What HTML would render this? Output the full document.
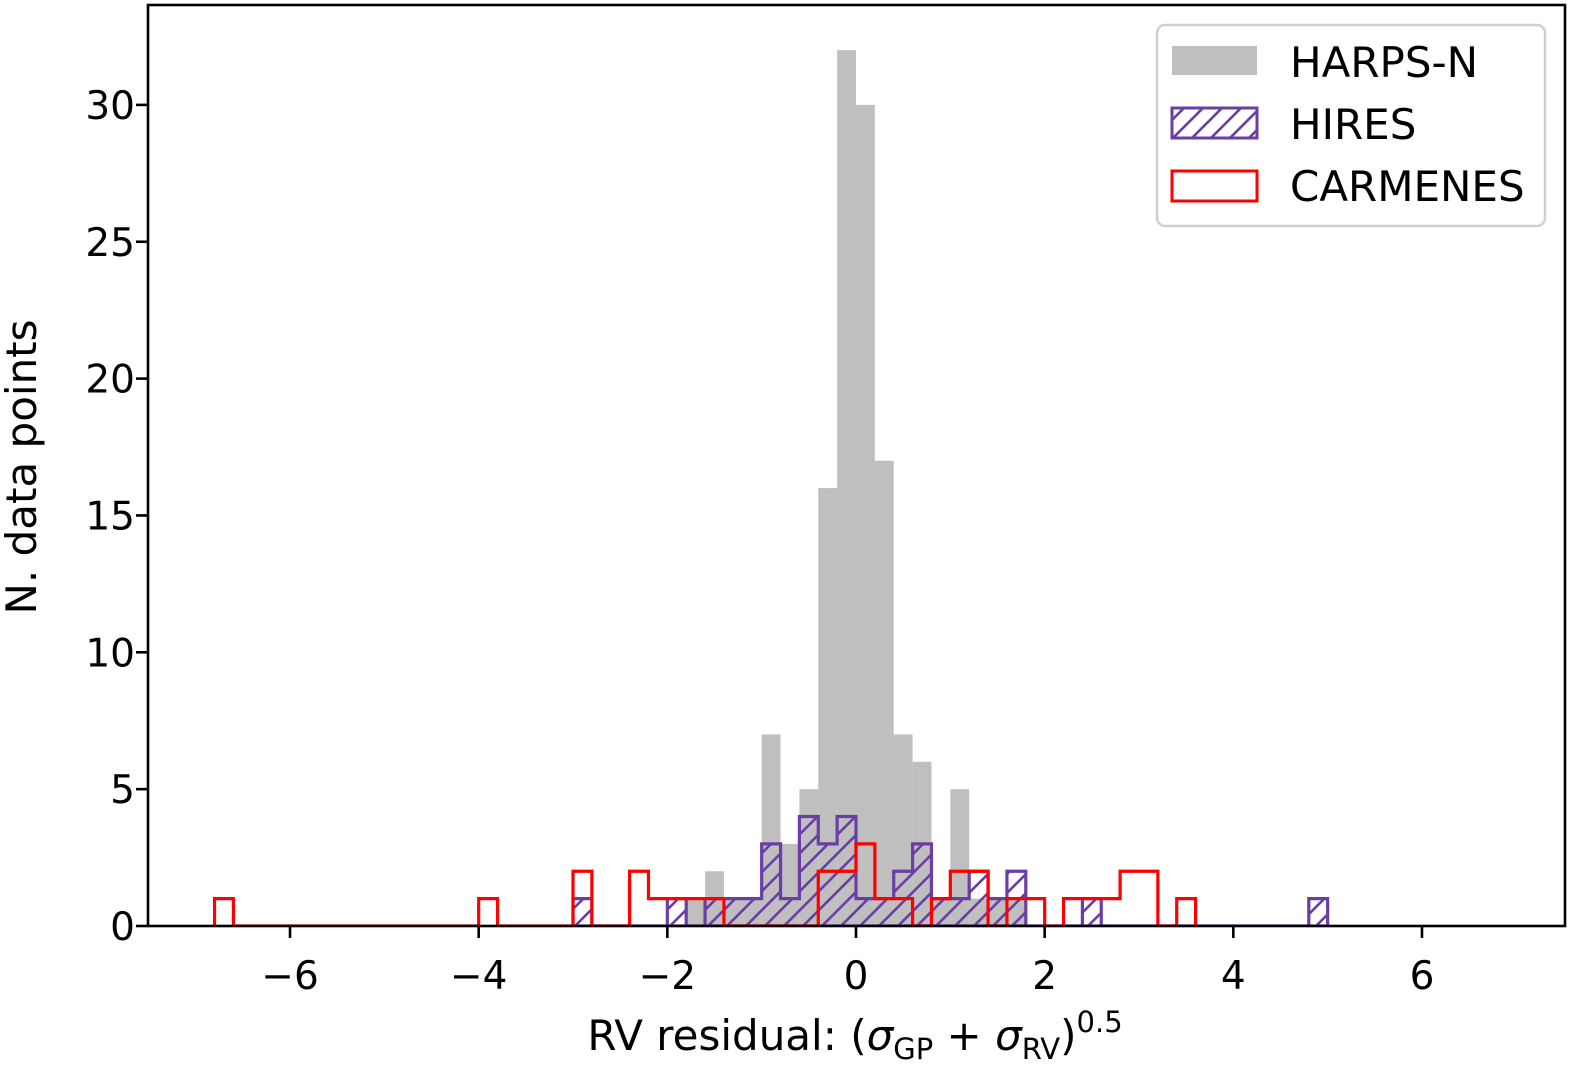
<!DOCTYPE html>
<html><head><meta charset="utf-8">
<style>
html,body{margin:0;padding:0;background:#fff;}
svg{display:block;font-family:"DejaVu Sans","Liberation Sans",sans-serif;}
</style></head>
<body>
<svg id="chart" width="1570" height="1065" viewBox="0 0 1570 1065" xmlns="http://www.w3.org/2000/svg">
<defs>
<pattern id="hatch" patternUnits="userSpaceOnUse" width="19" height="19">
<path d="M-2,21 L21,-2 M-2,2 L2,-2 M17,21 L21,17" stroke="#6a3fa5" stroke-width="2.6"/>
</pattern>
<clipPath id="plotclip"><rect x="148" y="5" width="1417" height="921"/></clipPath>
</defs>
<g id="marks" clip-path="url(#plotclip)"></g>
<g id="axes"></g>
</svg>
<script>
// bin start index k => bin [k*binW, (k+1)*binW]
const binW = 0.2;
const harpsBins = [-9,-8,-7,-6,-5,-4,-3,-2,-1,0,1,2,3,4,5,6,7,8];
const harpsCounts = [1,2,1,1,7,3,5,16,32,30,17,7,6,1,5,1,1,1];
const hiresBins = [-15,-10,-8,-7,-6,-5,-4,-3,-2,-1,0,1,2,3,4,5,6,7,8,12,24];
const hiresCounts = [1,1,1,1,1,3,1,4,3,4,1,1,2,3,1,1,2,1,2,1,1];
const carmBins = [-34,-20,-15,-12,-11,-10,-9,-8,-2,-1,0,1,2,4,5,6,8,9,11,12,13,14,15,17];
const carmCounts = [1,1,2,2,1,1,1,1,2,2,3,1,1,1,2,2,1,1,1,1,1,2,2,1];
const xTicks = [-6,-4,-2,0,2,4,6];
const xTickLabels = ["\u22126","\u22124","\u22122","0","2","4","6"];
const yTicks = [0,5,10,15,20,25,30];
const yTickLabels = ["0","5","10","15","20","25","30"];

const X0=148,X1=1565,Y0=926,Y1=5;
const xs = v => 856 + v*94.33;
const ys = v => 926 - v*27.37;
const NS="http://www.w3.org/2000/svg";
const marks=document.getElementById('marks'), axes=document.getElementById('axes');
function mk(tag, attrs, parent){const e=document.createElementNS(NS,tag);for(const k in attrs)e.setAttribute(k,attrs[k]);parent.appendChild(e);return e;}

harpsBins.forEach((k,i)=>{
  const r=mk('rect',{x:xs(k*binW),y:ys(harpsCounts[i]),width:xs((k+1)*binW)-xs(k*binW),height:ys(0)-ys(harpsCounts[i]),fill:'#bfbfbf'},marks);
  
  
});

function stepPath(bins,counts){
  const mp={};bins.forEach((k,i)=>mp[k]=counts[i]);
  const lo=Math.min(...bins),hi=Math.max(...bins);
  let d=`M${xs(lo*binW)},${ys(0)}`;
  for(let k=lo;k<=hi;k++){const c=mp[k]||0;d+=` L${xs(k*binW)},${ys(c)} L${xs((k+1)*binW)},${ys(c)}`;}
  d+=` L${xs((hi+1)*binW)},${ys(0)}`;
  return d;
}
const hp=mk('path',{d:stepPath(hiresBins,hiresCounts)+' Z',fill:'url(#hatch)',stroke:'#6a3fa5','stroke-width':3.2,'stroke-linejoin':'miter'},marks);


const cp=mk('path',{d:stepPath(carmBins,carmCounts),fill:'none',stroke:'#ff0000','stroke-width':3.2},marks);


const bl=mk('line',{x1:X0,x2:X1,y1:ys(0),y2:ys(0),stroke:'#ff0000','stroke-width':1.5},marks);



const fr=mk('rect',{x:X0,y:Y1,width:X1-X0,height:Y0-Y1,fill:'none',stroke:'#000','stroke-width':2.6},axes);


xTicks.forEach((t,i)=>{
  const l=mk('line',{x1:xs(t),x2:xs(t),y1:Y0,y2:Y0+12,stroke:'#000','stroke-width':2.6},axes);
  
  
  const tx=mk('text',{x:xs(t),y:989,'text-anchor':'middle','font-size':39},axes);
  tx.textContent=xTickLabels[i];
  
  
});
yTicks.forEach((t,i)=>{
  const l=mk('line',{x1:X0-12,x2:X0,y1:ys(t),y2:ys(t),stroke:'#000','stroke-width':2.6},axes);
  
  
  const tx=mk('text',{x:X0-13,y:ys(t)+14,'text-anchor':'end','font-size':39},axes);
  tx.textContent=yTickLabels[i];
  
  
});
</script>
<svg style="position:absolute;left:0;top:0" width="1570" height="1065" xmlns="http://www.w3.org/2000/svg" font-family="DejaVu Sans, Liberation Sans, sans-serif">
<text x="855" y="1050" text-anchor="middle" font-size="42">RV residual: (<tspan font-style="italic">σ</tspan><tspan font-size="29" dy="9">GP</tspan><tspan dy="-9"> + </tspan><tspan font-style="italic">σ</tspan><tspan font-size="29" dy="9">RV</tspan><tspan dy="-9">)</tspan><tspan font-size="29" dy="-18">0.5</tspan></text>
<text transform="translate(36,467) rotate(-90)" text-anchor="middle" font-size="42">N. data points</text>
<g>
<rect x="1157" y="25" width="388" height="201" rx="8" fill="#fff" fill-opacity="0.8" stroke="#d0d0d0" stroke-width="2.5"/>
<rect x="1172" y="46" width="85" height="29" fill="#bfbfbf"/>
<rect x="1172" y="108" width="85" height="30" fill="url(#hatch)" stroke="#6a3fa5" stroke-width="3"/>
<rect x="1172" y="171" width="85" height="30" fill="none" stroke="#ff0000" stroke-width="3"/>
<text x="1290" y="77" font-size="42">HARPS-N</text>
<text x="1290" y="139" font-size="42">HIRES</text>
<text x="1290" y="201" font-size="42">CARMENES</text>
</g>
</svg>
</body></html>
